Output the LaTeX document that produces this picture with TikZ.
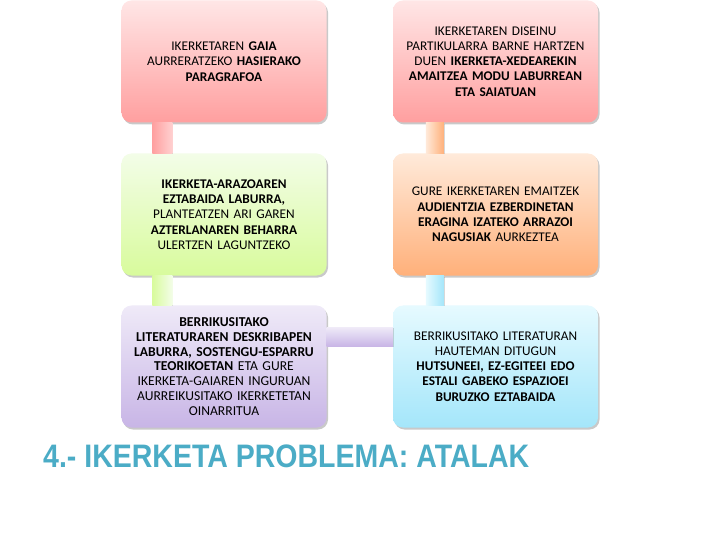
\documentclass[tikz,border=0pt]{standalone}
\usepackage{fontspec}
\usepackage{graphicx}
\setmainfont{Carlito}
\newfontfamily\titlefont{Liberation Sans}
\usetikzlibrary{shadows,calc}
\definecolor{rtop}{HTML}{FFE6E6}
\definecolor{rbot}{HTML}{FF9F9F}
\definecolor{gtop}{HTML}{F3FDE8}
\definecolor{gbot}{HTML}{D8FB9C}
\definecolor{otop}{HTML}{FFEADA}
\definecolor{obot}{HTML}{FFB07A}
\definecolor{ptop}{HTML}{EFEAF8}
\definecolor{pbot}{HTML}{C8B5E6}
\definecolor{ctop}{HTML}{E6FAFF}
\definecolor{cbot}{HTML}{A4E6FA}
\definecolor{titleblue}{HTML}{4BACC6}
\begin{document}
\begin{tikzpicture}[x=1bp,y=-1bp,
  box/.style={rectangle, rounded corners=10bp, minimum width=205bp, minimum height=122bp,
    text width=198bp, align=center, inner sep=0pt,
    font=\fontsize{13.3bp}{15.2bp}\selectfont,
    drop shadow={shadow xshift=1.5bp,shadow yshift=-2bp,opacity=0.35,fill=black!60}},
  redbox/.style={box, top color=rtop, bottom color=rbot},
  greenbox/.style={box, top color=gtop, bottom color=gbot},
  orangebox/.style={box, top color=otop, bottom color=obot},
  purplebox/.style={box, top color=ptop, bottom color=pbot, font=\fontsize{13.6bp}{14.8bp}\selectfont},
  cyanbox/.style={box, top color=ctop, bottom color=cbot},
  bar/.style={drop shadow={shadow xshift=1bp,shadow yshift=-1bp,opacity=0.25,fill=black!60}},
  titlestyle/.style={font=\titlefont\bfseries\fontsize{28.5bp}{32bp}\selectfont, text=titleblue, anchor=base west, inner sep=0pt}
]
\useasboundingbox[fill=white] (0,0) rectangle (720,540);

\node[redbox] (b1) at (224,61.5) {IKERKETAREN \textbf{GAIA}\\AURRERATZEKO \textbf{HASIERAKO}\\\textbf{PARAGRAFOA}};
\node[redbox] (b2) at (495.5,61.5) {IKERKETAREN DISEINU\\PARTIKULARRA BARNE HARTZEN\\DUEN \textbf{IKERKETA-XEDEAREKIN}\\\textbf{AMAITZEA MODU LABURREAN}\\\textbf{ETA SAIATUAN}};
\node[greenbox] (b3) at (224,214.5) {\textbf{IKERKETA-ARAZOAREN}\\\textbf{EZTABAIDA LABURRA,}\\PLANTEATZEN ARI GAREN\\\textbf{AZTERLANAREN BEHARRA}\\ULERTZEN LAGUNTZEKO};
\node[orangebox] (b4) at (495.5,214.5) {GURE IKERKETAREN EMAITZEK\\\textbf{AUDIENTZIA EZBERDINETAN}\\\textbf{ERAGINA IZATEKO ARRAZOI}\\\textbf{NAGUSIAK} AURKEZTEA};
\node[purplebox] (b5) at (224,366.5) {\textbf{BERRIKUSITAKO}\\\textbf{LITERATURAREN DESKRIBAPEN}\\\textbf{LABURRA, SOSTENGU-ESPARRU}\\\textbf{TEORIKOETAN} ETA GURE\\IKERKETA-GAIAREN INGURUAN\\AURREIKUSITAKO IKERKETETAN\\OINARRITUA};
\node[cyanbox] (b6) at (495.5,366.5) {BERRIKUSITAKO LITERATURAN\\HAUTEMAN DITUGUN\\\textbf{HUTSUNEEI, EZ-EGITEEI EDO}\\\textbf{ESTALI GABEKO ESPAZIOEI}\\\textbf{BURUZKO EZTABAIDA}};

\path[bar, left color=rbot, right color=rtop!70!rbot] ($(b1.south west)+(31,0)$) rectangle ($(b3.north west)+(51,0)$);
\path[bar, left color=otop, right color=obot] ($(b2.south west)+(33,0)$) rectangle ($(b4.north west)+(51,0)$);
\path[bar, left color=gbot, right color=gtop] ($(b3.south west)+(31,0)$) rectangle ($(b5.north west)+(51,0)$);
\path[bar, left color=ctop, right color=cbot] ($(b4.south west)+(33,0)$) rectangle ($(b6.north west)+(51,0)$);
\path[bar, top color=ptop, bottom color=pbot] ($(b5.north east)+(0,22)$) rectangle ($(b6.north west)+(0,41)$);

\node[titlestyle] (title) at (43,467.5) {\scalebox{1}[1.14]{4.- IKERKETA PROBLEMA: ATALAK}};
\end{tikzpicture}
\end{document}
